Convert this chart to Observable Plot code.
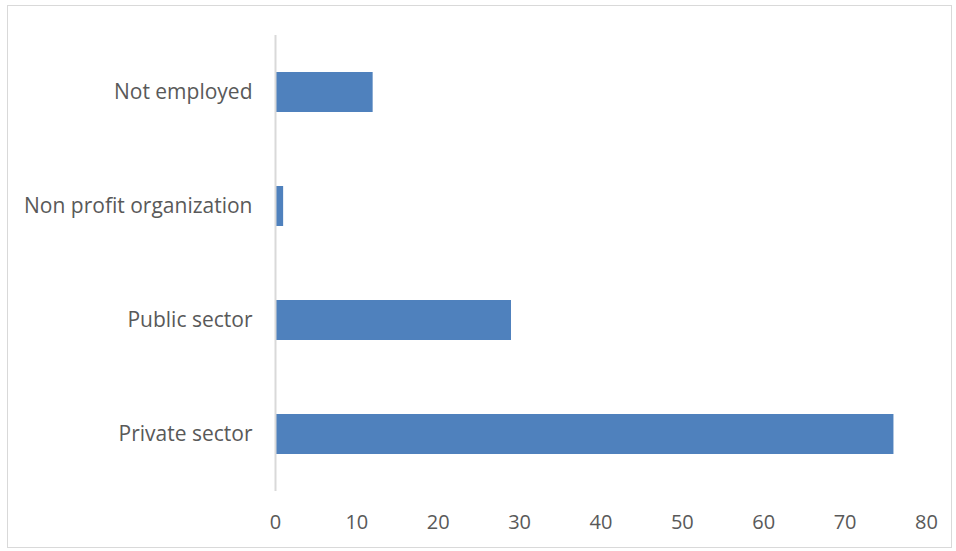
<!DOCTYPE html>
<html>
<head>
<meta charset="utf-8">
<script src="https://cdn.jsdelivr.net/npm/d3@7"></script>
<script src="https://cdn.jsdelivr.net/npm/@observablehq/plot@0.6"></script>
<style>
  html, body { margin: 0; padding: 0; background: #fff; }
  #wrap { position: relative; width: 956px; height: 551px; }
  #border {
    position: absolute; left: 7px; top: 5px; width: 943px; height: 541px;
    border: 1.5px solid #d9d9d9; pointer-events: none;
  }
  #chart { position: absolute; left: 0; top: 0; }
</style>
</head>
<body>
<div id="wrap">
  <div id="chart"></div>
  <div id="border"></div>
</div>
<script>
// Employment sector of respondents
const categories = ["Not employed", "Non profit organization", "Public sector", "Private sector"];
const counts = [12, 1, 29, 76];
const xTicks = [0, 10, 20, 30, 40, 50, 60, 70, 80];

const rows = categories.map((c, i) => ({category: c, count: counts[i]}));

const chart = Plot.plot({
  width: 956,
  height: 551,
  marginLeft: 275,
  marginRight: 30,
  marginTop: 35,
  marginBottom: 60,
  style: {fontFamily: "'Open Sans', sans-serif", fontSize: "21px", color: "#595959", background: "transparent"},
  x: {domain: [0, 80], ticks: xTicks, label: null},
  y: {domain: categories, label: null, paddingInner: 0.65, paddingOuter: 0.325},
  marks: [
    Plot.barX(rows, {x: "count", y: "category", fill: "#4f81bd"}),
    Plot.ruleX([0], {stroke: "#d9d9d9", strokeWidth: 2}),
    Plot.axisX({ticks: xTicks, tickSize: 0, tickPadding: 23, label: null, fill: "#595959", fontSize: 20}),
    Plot.axisY({tickSize: 0, tickPadding: 23, label: null, fill: "#595959", fontSize: 21})
  ]
});

document.getElementById("chart").appendChild(chart);
</script>
</body>
</html>
